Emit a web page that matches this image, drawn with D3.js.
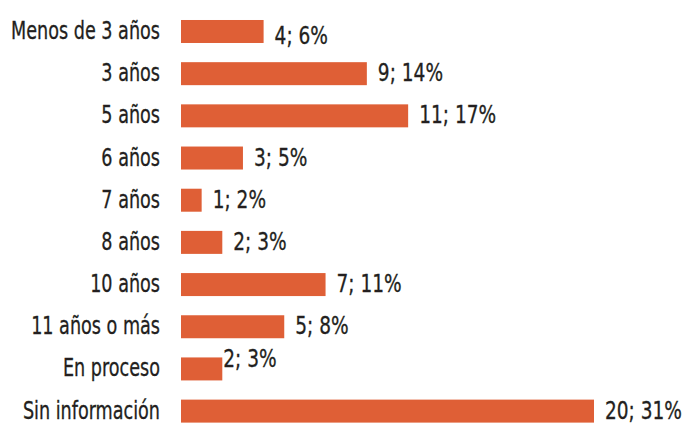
<!DOCTYPE html>
<html><head><meta charset="utf-8">
<script src="https://cdn.jsdelivr.net/npm/d3@7"></script>
<style>html,body{margin:0;padding:0;background:#fff;}</style>
</head><body>
<svg id="chart" width="690" height="423"></svg>
<script>
const categories = ["Menos de 3 años","3 años","5 años","6 años","7 años","8 años","10 años","11 años o más","En proceso","Sin información"];
const counts = [4, 9, 11, 3, 1, 2, 7, 5, 2, 20];
const percents = [6, 14, 17, 5, 2, 3, 11, 8, 3, 31];

const svg = d3.select("#chart");
const font = "'DejaVu Sans Condensed','DejaVu Sans',sans-serif";
const fs = 25;
const x = d3.scaleLinear().domain([0, 20]).range([181, 594]);
const y = d3.scaleBand().domain(categories).range([10.4, 432.2]).paddingInner(0.455).paddingOuter(0.2275);

// small label adjustments mimicking reference placement
const labelDy = {"Menos de 3 años": 5, "En proceso": -9};
const labelDx = {"En proceso": -10};

const data = categories.map((c, i) => ({c, n: counts[i], p: percents[i]}));

svg.selectAll("rect.bar").data(data).join("rect")
  .attr("class", "bar")
  .attr("x", x(0))
  .attr("y", d => y(d.c))
  .attr("width", d => x(d.n) - x(0))
  .attr("height", y.bandwidth())
  .attr("fill", "#DF5F36");

// measure to emulate a condensed typeface
function measure(t) {
  const p = svg.append("text").attr("font-family", font).attr("font-size", fs).text(t);
  const w = p.node().getComputedTextLength();
  p.remove();
  return w;
}
const sxCat = 149 / measure(categories[0]);
const sxVal = 77 / measure("20; 31%");

svg.selectAll("text.cat").data(data).join("text")
  .attr("class", "cat")
  .attr("transform", d => `translate(160,${y(d.c) + y.bandwidth() / 2 + 7.5}) scale(${sxCat},1)`)
  .attr("text-anchor", "end")
  .attr("font-family", font)
  .attr("font-size", fs)
  .attr("fill", "#231F20")
  .attr("stroke", "#231F20")
  .attr("stroke-width", 0.3)
  .text(d => d.c);

svg.selectAll("text.val").data(data).join("text")
  .attr("class", "val")
  .attr("transform", d => `translate(${x(d.n) + 11 + (labelDx[d.c] || 0)},${y(d.c) + y.bandwidth() / 2 + 7.5 + (labelDy[d.c] || 0)}) scale(${sxVal},1)`)
  .attr("font-family", font)
  .attr("font-size", fs)
  .attr("fill", "#231F20")
  .attr("stroke", "#231F20")
  .attr("stroke-width", 0.3)
  .text(d => `${d.n}; ${d.p}%`);
</script>
</body></html>
